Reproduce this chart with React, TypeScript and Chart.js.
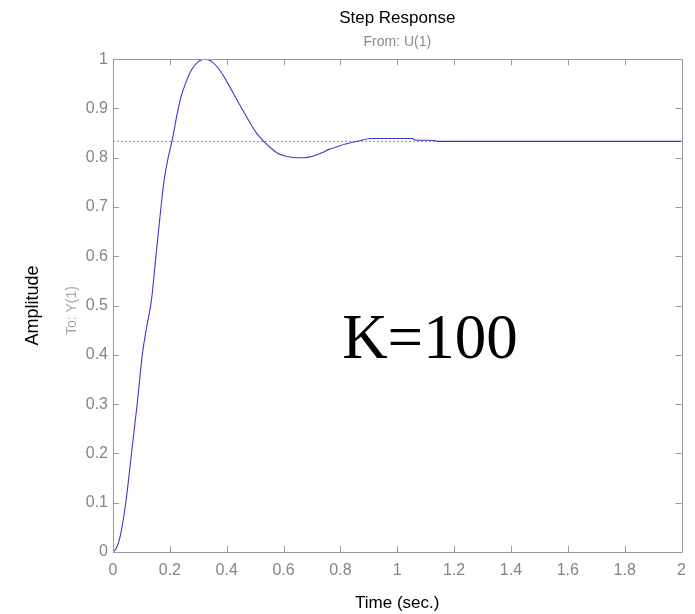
import React, { useEffect, useRef } from "react";
import { Chart, registerables } from "chart.js";

Chart.register(...registerables);

const timeValues = [
  0, 0.01, 0.02, 0.03, 0.045, 0.065, 0.085, 0.103, 0.118, 0.135, 0.151, 0.167, 0.18, 0.194,
  0.209, 0.226, 0.24, 0.258, 0.278, 0.3, 0.326, 0.35, 0.375, 0.4, 0.427, 0.455, 0.48, 0.505,
  0.532, 0.555, 0.579, 0.61, 0.643, 0.672, 0.702, 0.73, 0.76, 0.79, 0.818, 0.865, 0.906,
  1.052, 1.063, 1.133, 1.14, 2.0,
];
const amplitudeValues = [
  0, 0.006, 0.02, 0.045, 0.1, 0.2, 0.3, 0.4, 0.455, 0.51, 0.6, 0.69, 0.755, 0.8,
  0.838, 0.89, 0.925, 0.955, 0.98, 0.995, 1.0, 0.994, 0.978, 0.955, 0.927, 0.898, 0.873, 0.85,
  0.832, 0.82, 0.809, 0.803, 0.8, 0.8, 0.803, 0.809, 0.817, 0.823, 0.828, 0.834, 0.839,
  0.839, 0.836, 0.835, 0.8333, 0.8333,
];
const finalValue = 0.8333;
const xTicks = [0, 0.2, 0.4, 0.6, 0.8, 1, 1.2, 1.4, 1.6, 1.8, 2];
const yTicks = [0, 0.1, 0.2, 0.3, 0.4, 0.5, 0.6, 0.7, 0.8, 0.9, 1];
const titleText = "Step Response";
const subtitleText = "From: U(1)";
const xTitle = "Time (sec.)";
const yTitle = "Amplitude";
const yInnerTitle = "To: Y(1)";
const annotationText = "K=100";
const annotationAt = { x: 0.806, y: 0.393 };

const AXIS_GRAY = "#9a9a9a";
const LABEL_GRAY = "#858585";

const boxPlugin = {
  id: "matlabBox",
  afterDraw(chart: any) {
    const { ctx, chartArea, scales } = chart;
    const { left, right, top, bottom } = chartArea;
    const xs = scales.x;
    const ys = scales.y;
    ctx.save();
    ctx.strokeStyle = AXIS_GRAY;
    ctx.lineWidth = 1;
    ctx.beginPath();
    ctx.rect(Math.round(left) + 0.5, Math.round(top) + 0.5, Math.round(right - left), Math.round(bottom - top));
    ctx.stroke();
    const tl = 6;
    ctx.beginPath();
    xs.ticks.forEach((t: any) => {
      const px = Math.round(xs.getPixelForValue(t.value)) + 0.5;
      ctx.moveTo(px, bottom);
      ctx.lineTo(px, bottom - tl);
      ctx.moveTo(px, top);
      ctx.lineTo(px, top + tl);
    });
    ys.ticks.forEach((t: any) => {
      const py = Math.round(ys.getPixelForValue(t.value)) + 0.5;
      ctx.moveTo(left, py);
      ctx.lineTo(left + tl, py);
      ctx.moveTo(right, py);
      ctx.lineTo(right - tl, py);
    });
    ctx.stroke();

    // inner y label
    ctx.fillStyle = "#a8a8a8";
    ctx.font = "14px 'Liberation Sans', Arial, sans-serif";
    ctx.textAlign = "center";
    ctx.textBaseline = "middle";
    ctx.translate(72, (top + bottom) / 2 + 5);
    ctx.rotate(-Math.PI / 2);
    ctx.fillText(yInnerTitle, 0, 0);
    ctx.setTransform(1, 0, 0, 1, 0, 0);

    // annotation
    ctx.fillStyle = "#000";
    ctx.font = "63px 'Liberation Serif', 'Times New Roman', serif";
    ctx.textAlign = "left";
    ctx.textBaseline = "alphabetic";
    ctx.fillText(annotationText, xs.getPixelForValue(annotationAt.x), ys.getPixelForValue(annotationAt.y));
    ctx.restore();
  },
};

export default function App() {
  const ref = useRef<HTMLCanvasElement | null>(null);
  useEffect(() => {
    if (!ref.current) return;
    const chart = new Chart(ref.current, {
      type: "line",
      data: {
        datasets: [
          {
            data: timeValues.map((t, i) => ({ x: t, y: amplitudeValues[i] })),
            borderColor: "rgb(58,58,200)",
            borderWidth: 1.1,
            pointRadius: 0,
            cubicInterpolationMode: "monotone",
          },
          {
            data: [
              { x: xTicks[0], y: finalValue },
              { x: xTicks[xTicks.length - 1], y: finalValue },
            ],
            borderColor: "#8c8c8c",
            borderWidth: 1,
            borderDash: [2, 2],
            pointRadius: 0,
          },
        ],
      },
      options: {
        responsive: false,
        animation: false,
        events: [],
        layout: { padding: { left: 0, right: 10, top: 0, bottom: 0 } },
        plugins: {
          legend: { display: false },
          tooltip: { enabled: false },
          title: {
            display: true,
            text: titleText,
            fullSize: false,
            color: "#000",
            font: { family: "'Liberation Sans', Arial, sans-serif", size: 17, weight: "normal" },
            padding: { top: 8, bottom: 0 },
          },
          subtitle: {
            display: true,
            text: subtitleText,
            fullSize: false,
            color: "#8a8a8a",
            font: { family: "'Liberation Sans', Arial, sans-serif", size: 14 },
            padding: { top: 5, bottom: 9 },
          },
        },
        scales: {
          x: {
            type: "linear",
            min: 0,
            max: 2,
            afterBuildTicks: (s: any) => {
              s.ticks = xTicks.map((v) => ({ value: v }));
            },
            afterFit: (s: any) => {
              s.height = 62;
            },
            grid: { display: false, drawTicks: false },
            border: { display: false },
            ticks: {
              color: LABEL_GRAY,
              padding: 9,
              maxRotation: 0,
              autoSkip: false,
              font: { family: "'Liberation Sans', Arial, sans-serif", size: 16 },
              callback: (v: any) => String(v),
            },
            title: {
              display: true,
              text: xTitle,
              color: "#000",
              font: { family: "'Liberation Sans', Arial, sans-serif", size: 17 },
              padding: { top: 0, bottom: 0 },
            },
          },
          y: {
            type: "linear",
            min: 0,
            max: 1,
            afterBuildTicks: (s: any) => {
              s.ticks = yTicks.map((v) => ({ value: v }));
            },
            afterFit: (s: any) => {
              s.width = 113;
            },
            grid: { display: false, drawTicks: false },
            border: { display: false },
            ticks: {
              color: LABEL_GRAY,
              padding: 5,
              autoSkip: false,
              font: { family: "'Liberation Sans', Arial, sans-serif", size: 16 },
              callback: (v: any) => String(v),
            },
            title: {
              display: true,
              text: yTitle,
              color: "#000",
              font: { family: "'Liberation Sans', Arial, sans-serif", size: 18 },
              padding: { top: 22, bottom: 0 },
            },
          },
        },
      },
      plugins: [boxPlugin],
    });
    return () => chart.destroy();
  }, []);
  return (
    <div style={{ position: "fixed", left: 0, top: 0, width: 695, height: 614, background: "#fff" }}>
      <canvas ref={ref} width={695} height={614} />
    </div>
  );
}
